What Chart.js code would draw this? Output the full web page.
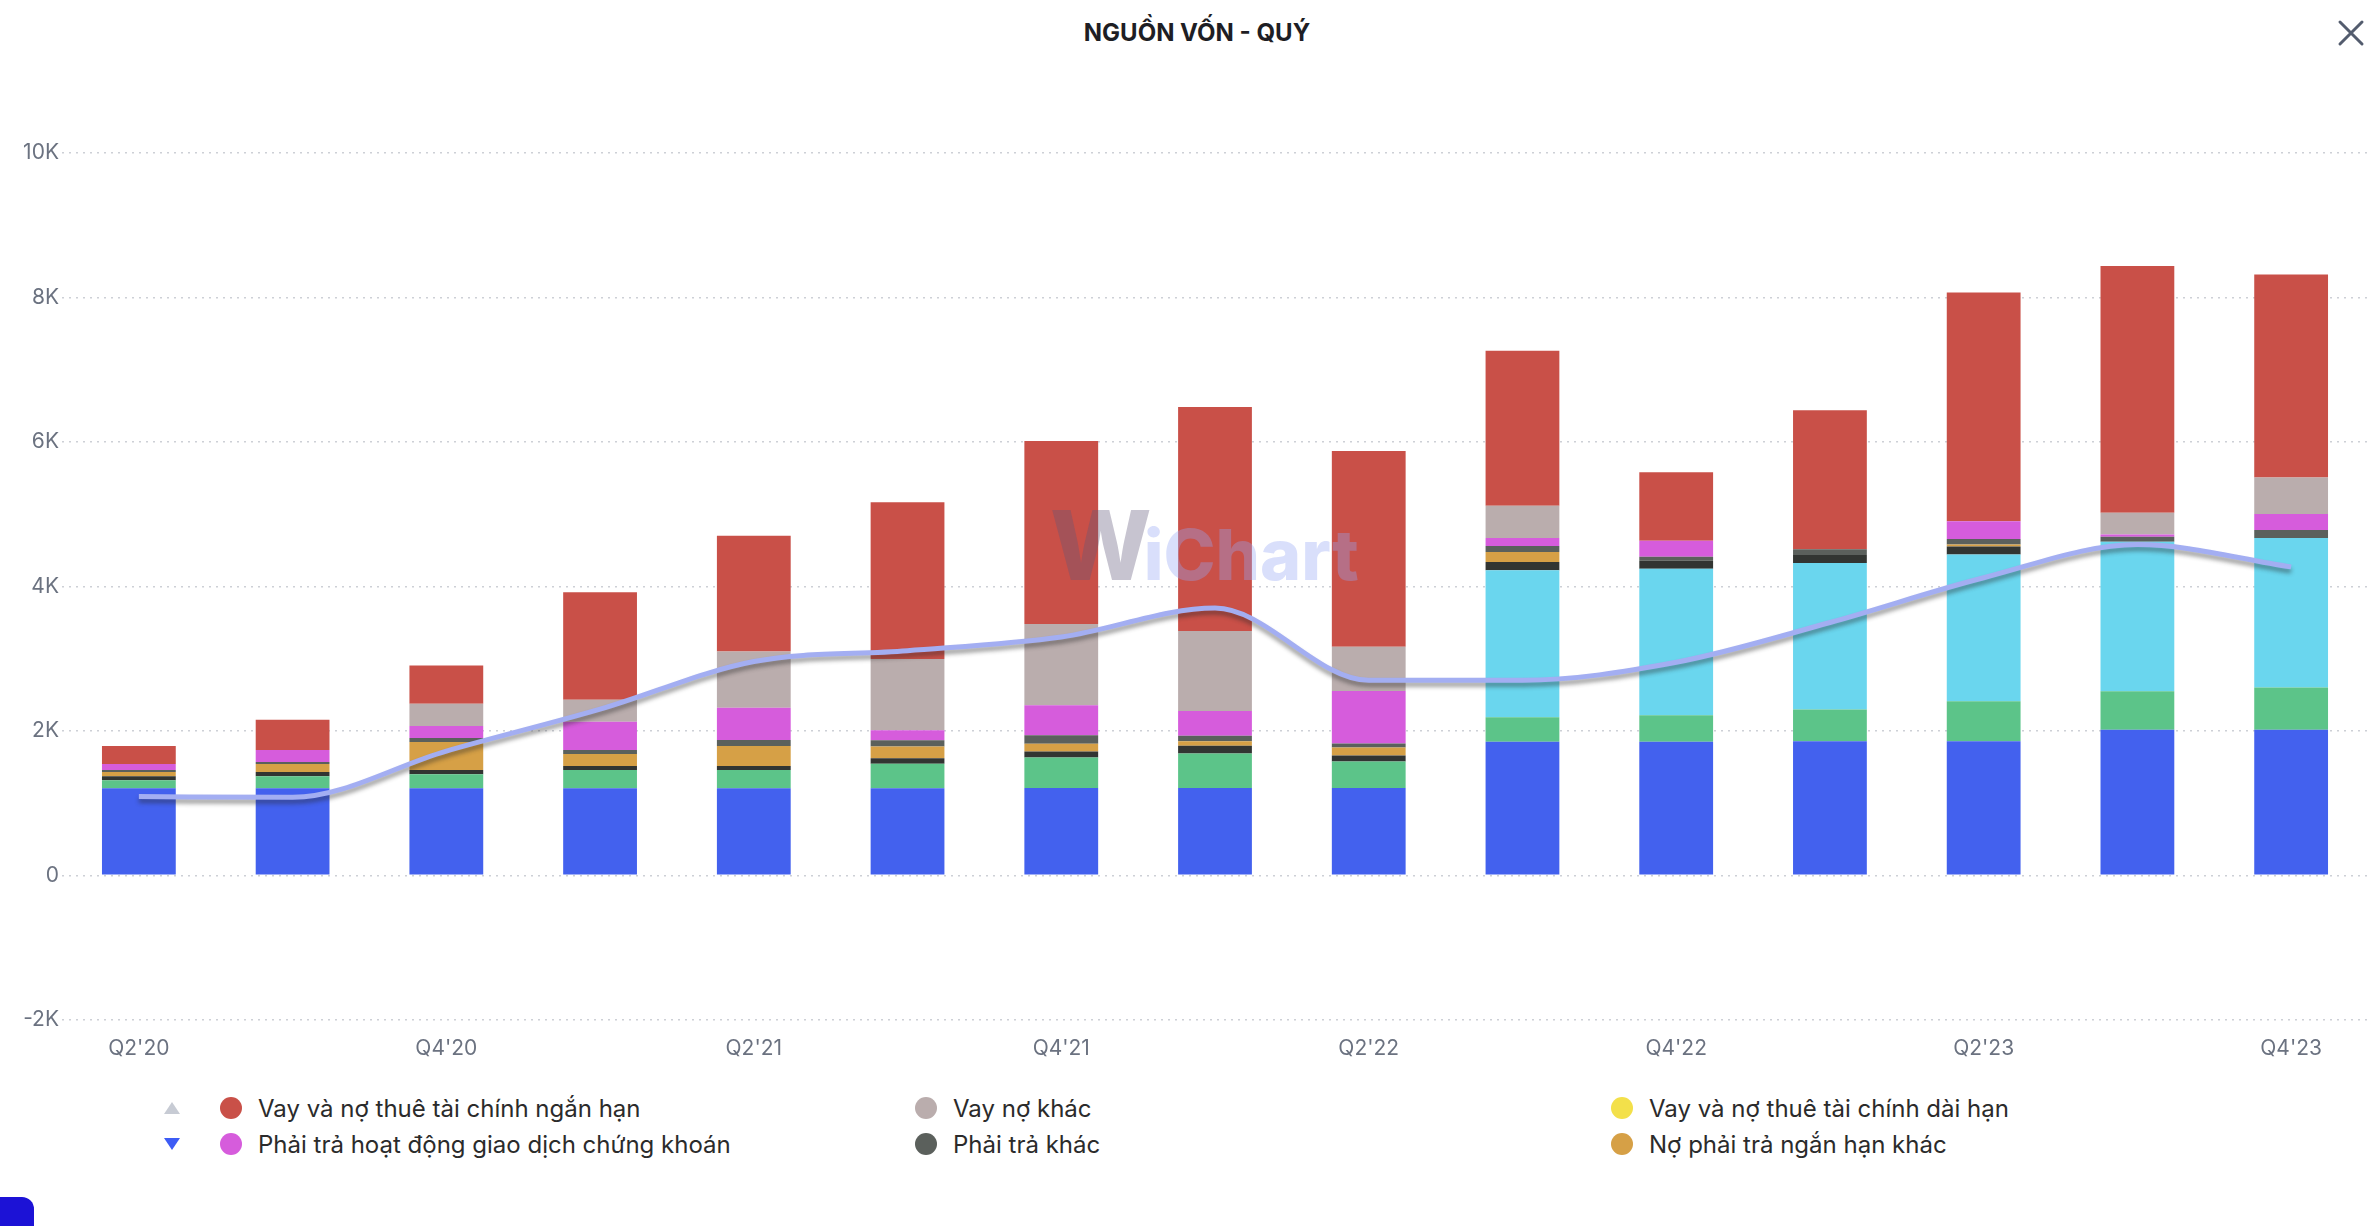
<!DOCTYPE html>
<html lang="vi">
<head>
  <meta charset="UTF-8" />
  <title>Nguồn vốn - Quý</title>
  <script src="https://cdn.jsdelivr.net/npm/chart.js"></script>
  <style>
    * { box-sizing: border-box; }

    html, body {
      margin: 0;
      padding: 0;
      background: #fff;
    }

    body {
      width: 2368px;
      height: 1226px;
      position: relative;
      overflow: hidden;
      font-family: Inter, 'Noto Sans', sans-serif;
    }

    .title {
      position: absolute;
      top: 17px;
      left: 1197px;
      transform: translateX(-50%);
      font-size: 24px;
      line-height: 32px;
      font-weight: 700;
      color: #1e1e24;
      white-space: nowrap;
    }

    .close-btn {
      position: absolute;
      left: 2337px;
      top: 19px;
      width: 28px;
      height: 28px;
    }

    .chart-wrap {
      position: absolute;
      left: 0;
      top: 0;
      width: 2368px;
      height: 1085px;
    }

    .legend-item {
      position: absolute;
      height: 30px;
      display: flex;
      align-items: center;
      font-size: 24px;
      color: #2b2b2b;
      white-space: nowrap;
    }

    .legend-item .dot {
      width: 22px;
      height: 22px;
      border-radius: 50%;
      margin-right: 16px;
      flex: none;
    }

    .pager {
      position: absolute;
      left: 163px;
    }

    .corner {
      position: absolute;
      left: -12px;
      top: 1197px;
      width: 46px;
      height: 50px;
      background: #1c12d6;
      border-radius: 12px;
    }
  </style>
</head>
<body>

  <div class="title">NGUỒN VỐN - QUÝ</div>
  <svg class="close-btn" viewBox="0 0 28 28">
    <path d="M3 3 L25 25 M25 3 L3 25" stroke="#535c6e" stroke-width="3" stroke-linecap="round" fill="none"/>
  </svg>

  <div class="chart-wrap">
    <canvas id="nguonVonChart"></canvas>
  </div>

  <!-- legend pager arrows -->
  <svg class="pager" style="top:1101px" width="18" height="14" viewBox="0 0 18 14">
    <polygon points="9,1 17,13 1,13" fill="#c7cbd4"/>
  </svg>
  <svg class="pager" style="top:1137px" width="18" height="14" viewBox="0 0 18 14">
    <polygon points="1,1 17,1 9,13" fill="#3d5cf5"/>
  </svg>

  <div id="legend"></div>
  <div class="corner"></div>

  <script>
    // Quarters
    const categories = ["Q2'20", "Q3'20", "Q4'20", "Q1'21", "Q2'21", "Q3'21", "Q4'21", "Q1'22",
                        "Q2'22", "Q3'22", "Q4'22", "Q1'23", "Q2'23", "Q3'23", "Q4'23"];
    const shownXLabels = ["Q2'20", "Q4'20", "Q2'21", "Q4'21", "Q2'22", "Q4'22", "Q2'23", "Q4'23"];

    const yTickValues = [-2000, 0, 2000, 4000, 6000, 8000, 10000];
    const yTickLabels = ['-2K', '0', '2K', '4K', '6K', '8K', '10K'];

    // Stack, bottom to top (tỷ đồng)
    const vonGop       = [1206, 1206, 1206, 1206, 1206, 1206, 1210, 1210, 1210, 1850, 1850, 1855, 1855, 2017, 2017];
    const loiNhuan     = [112, 167, 195, 251, 251, 340, 420, 475, 365, 337, 365, 440, 555, 532, 584];
    const thangDu      = [0, 0, 0, 0, 0, 0, 0, 0, 0, 2035, 2030, 2030, 2030, 2070, 2070];
    const quyKhac      = [55, 56, 56, 56, 56, 74, 83, 110, 83, 116, 111, 110, 111, 0, 0];
    const vayDaiHan    = [0, 0, 0, 0, 0, 0, 0, 0, 0, 0, 0, 0, 0, 0, 0];
    const noNganHanKhac = [56, 111, 390, 167, 278, 164, 110, 60, 110, 138, 0, 0, 28, 0, 0];
    const phaiTraKhac  = [28, 28, 55, 55, 84, 85, 115, 77, 56, 83, 56, 81, 78, 67, 110];
    const phaiTraGDCK  = [83, 167, 167, 390, 445, 140, 415, 342, 728, 110, 220, 0, 246, 33, 220];
    const vayNoKhac    = [0, 0, 307, 306, 780, 986, 1125, 1110, 613, 447, 0, 0, 0, 300, 508];
    const vayNganHan   = [251, 418, 529, 1489, 1600, 2169, 2535, 3100, 2710, 2147, 950, 1924, 3166, 3415, 2809];

    // Line series
    const duongTong    = [1090, 1080, 1720, 2300, 2960, 3110, 3300, 3700, 2700, 2700, 2950, 3500, 4120, 4580, 4270];

    // Legend page shown in the picture
    const legendNames = [
      'Vay và nợ thuê tài chính ngắn hạn',
      'Vay nợ khác',
      'Vay và nợ thuê tài chính dài hạn',
      'Phải trả hoạt động giao dịch chứng khoán',
      'Phải trả khác',
      'Nợ phải trả ngắn hạn khác'
    ];

    Chart.defaults.font.family = "Inter, 'Noto Sans', sans-serif";

    function bar(label, data, color) {
      return { type: 'bar', label: label, data: data, backgroundColor: color, stack: 'nguon', order: 1 };
    }

    // Line shadow
    const lineShadow = {
      id: 'lineShadow',
      beforeDatasetDraw(chart, args) {
        if (args.meta.type !== 'line') return;
        const ctx = chart.ctx;
        ctx.save();
        ctx.shadowColor = 'rgba(40, 40, 40, 0.45)';
        ctx.shadowBlur = 4;
        ctx.shadowOffsetY = 4;
      },
      afterDatasetDraw(chart, args) {
        if (args.meta.type !== 'line') return;
        chart.ctx.restore();
      }
    };

    // Faint watermark
    const watermark = {
      id: 'watermark',
      afterDatasetsDraw(chart) {
        const ctx = chart.ctx;
        ctx.save();
        ctx.textBaseline = 'alphabetic';
        let x = 1050;
        const y = 580;
        ctx.font = "800 96px Inter, sans-serif";
        ctx.fillStyle = 'rgba(95, 85, 120, 0.35)';
        ctx.fillText('W', x, y);
        x += ctx.measureText('W').width - 8;
        ctx.font = "800 70px Inter, sans-serif";
        ctx.fillStyle = 'rgba(150, 165, 245, 0.36)';
        ctx.fillText('iChart', x, y);
        ctx.restore();
      }
    };

    const ctx = document.getElementById('nguonVonChart').getContext('2d');
    const chart = new Chart(ctx, {
      data: {
        labels: categories,
        datasets: [
          {
            type: 'line',
            label: 'Tổng',
            data: duongTong,
            borderColor: '#a3aef2',
            borderWidth: 5,
            pointRadius: 0,
            cubicInterpolationMode: 'monotone',
            fill: false,
            stack: 'line',
            order: 0
          },
          bar('Vốn góp của chủ sở hữu', vonGop, '#4361ee'),
          bar('Lợi nhuận chưa phân phối', loiNhuan, '#5cc489'),
          bar('Thặng dư vốn cổ phần', thangDu, '#6ad6ee'),
          bar('Quỹ khác', quyKhac, '#323532'),
          bar('Vay và nợ thuê tài chính dài hạn', vayDaiHan, '#f3e04a'),
          bar('Nợ phải trả ngắn hạn khác', noNganHanKhac, '#d6a046'),
          bar('Phải trả khác', phaiTraKhac, '#5b605c'),
          bar('Phải trả hoạt động giao dịch chứng khoán', phaiTraGDCK, '#d65cdc'),
          bar('Vay nợ khác', vayNoKhac, '#baadad'),
          bar('Vay và nợ thuê tài chính ngắn hạn', vayNganHan, '#c95048')
        ]
      },
      options: {
        responsive: true,
        maintainAspectRatio: false,
        animation: false,
        datasets: {
          bar: { categoryPercentage: 0.8, barPercentage: 0.6 }
        },
        layout: {
          padding: { top: 153, bottom: 8, left: 0, right: 0 }
        },
        plugins: {
          legend: { display: false },
          title: { display: false },
          tooltip: { enabled: false }
        },
        scales: {
          x: {
            stacked: true,
            grid: { display: false, drawTicks: false },
            border: { display: false },
            ticks: {
              autoSkip: false,
              maxRotation: 0,
              padding: 16,
              color: '#6b7280',
              font: { size: 21 },
              callback: function (value, index) {
                const l = categories[index];
                return shownXLabels.includes(l) ? l : '';
              }
            }
          },
          y: {
            stacked: true,
            min: yTickValues[0],
            max: yTickValues[yTickValues.length - 1],
            afterFit(scale) { scale.width = 62; },
            afterBuildTicks(scale) {
              scale.ticks = yTickValues.map(v => ({ value: v }));
            },
            grid: { color: '#cdd0d6', lineWidth: 1.5, drawTicks: false },
            border: { display: false, dash: [2, 5] },
            ticks: {
              padding: 3,
              color: '#6b7280',
              font: { size: 21 },
              callback: function (value) {
                const i = yTickValues.indexOf(value);
                return i >= 0 ? yTickLabels[i] : '';
              }
            }
          }
        }
      },
      plugins: [lineShadow, watermark]
    });

    // Custom legend (first page, 3 columns x 2 rows)
    const legendBox = document.getElementById('legend');
    const colLeft = [220, 915, 1611];
    const rowMid = [1108, 1144];
    legendNames.forEach(function (name, i) {
      const ds = chart.data.datasets.find(d => d.label === name);
      const item = document.createElement('div');
      item.className = 'legend-item';
      item.style.left = colLeft[i % 3] + 'px';
      item.style.top = (rowMid[Math.floor(i / 3)] - 15) + 'px';
      item.innerHTML = '<span class="dot" style="background:' + ds.backgroundColor + '"></span>' + name;
      legendBox.appendChild(item);
    });
  </script>
</body>
</html>
